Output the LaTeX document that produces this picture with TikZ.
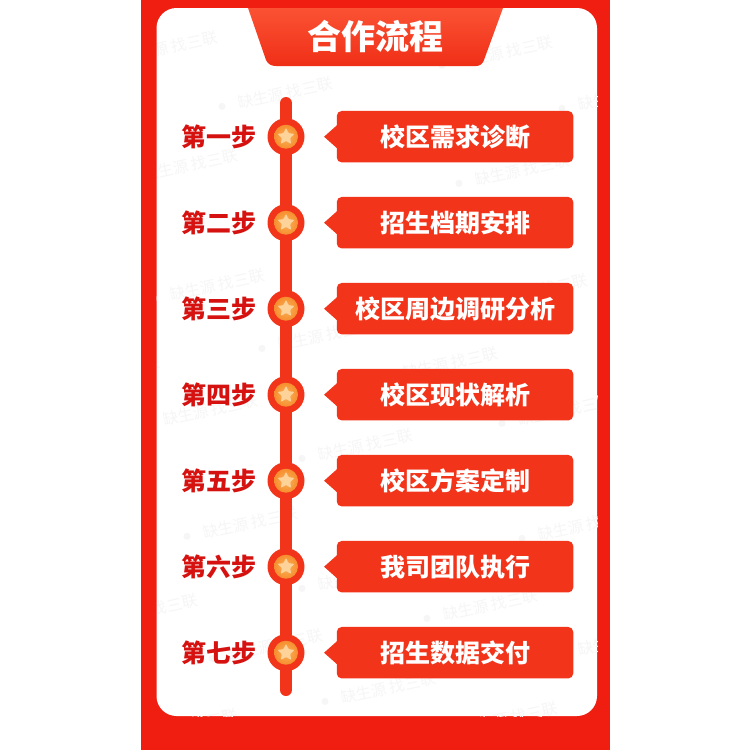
\documentclass[tikz,border=0pt]{standalone}
\usepackage{fontspec}
\usetikzlibrary{shapes.geometric,calc}
\newfontfamily\cjk{Noto Sans CJK SC}
\newfontfamily\cjkb{Noto Sans CJK SC Black}
\definecolor{outerred}{HTML}{F01E10}
\definecolor{railred}{HTML}{F2341A}
\definecolor{labelred}{HTML}{D5120F}
\definecolor{ringorange}{HTML}{F68E2E}
\definecolor{innerorange}{HTML}{FBB25C}
\definecolor{starpale}{HTML}{FDD39A}
\definecolor{markgray}{HTML}{F6F6F6}
\definecolor{bannertop}{HTML}{FB5233}
\definecolor{bannerbot}{HTML}{EF2F17}
\tikzset{
  x=1pt,y=-1pt,
  stepbox/.style={fill=railred,rounded corners=5pt,minimum width=236.5pt,minimum height=51.5pt,inner sep=0pt,text=white,font=\cjkb\fontsize{25}{25}\selectfont},
  steplabel/.style={text=labelred,inner sep=0pt,font=\cjkb\fontsize{25}{25}\selectfont},
  hub/.style={circle,fill=railred,minimum size=37pt,inner sep=0pt},
  disc/.style={circle,inner sep=0pt,minimum size=24pt,inner color=innerorange,outer color=ringorange},
  starmark/.style={star,star points=5,star point ratio=2.1,fill=starpale,minimum size=18pt,inner sep=0pt,rounded corners=1pt},
  wmark/.style={text=markgray,inner sep=0pt,rotate=12,font=\cjk\fontsize{15.5}{15.5}\selectfont},
  railline/.style={draw=railred,line width=12pt,line cap=round},
}
\begin{document}
\begin{tikzpicture}
\useasboundingbox (0,0) rectangle (750,750);
\fill[white] (0,0) rectangle (750,750);
\fill[outerred] (141,0) rectangle (610,750);
\fill[white,rounded corners=20pt] (156.5,8) rectangle (597,716);
\begin{scope}
  \clip[rounded corners=20pt] (156.5,8) rectangle (597,716);
  \foreach \wx/\wy in {170/47,285/93,505/52,190/165,522/170,217/285,325/335,365/445,210/410,450/363,565/410,250/523,150/610,275/645,388/688,490/605,585/525,625/640,510/718,190/725,365/575,112/372,625/95,540/290}{
    \node[wmark] at (\wx,\wy) {缺生源 找三联};
    \fill[markgray] ($(\wx,\wy)+(-63,13.4)$) circle (3.5pt);
  }
\end{scope}
\shade[top color=bannertop,bottom color=bannerbot]
  (248,8) -- (503,8) -- (484,60) .. controls (482.5,64) and (480,66) .. (476,66)
  -- (276,66) .. controls (271,66) and (268,64) .. (266,60) -- cycle;
\node[inner sep=0pt,text=white,font=\cjkb\fontsize{34}{34}\selectfont] (title) at (375.5,36.5) {合作流程};
\coordinate (railtop) at (286,103);
\coordinate (railbot) at (286,690);
\draw[railline] (railtop) -- (railbot);
\foreach \n/\yy/\lab/\txt in {1/136.7/第一步/校区需求诊断,2/222.7/第二步/招生档期安排,3/308.7/第三步/校区周边调研分析,4/394.7/第四步/校区现状解析,5/480.7/第五步/校区方案定制,6/566.7/第六步/我司团队执行,7/652.7/第七步/招生数据交付}{
  \node[hub] (hub\n) at (286,\yy) {};
  \node[disc] (disc\n) at (286,\yy) {};
  \node[starmark] (star\n) at (286,\yy) {};
  \node[steplabel] (lab\n) at (218.5,\yy) {\lab};
  \node[stepbox] (box\n) at (455,\yy) {\txt};
  \fill[railred] ($(box\n.west)+(1,-12)$) -- ($(box\n.west)+(-12.5,0)$) -- ($(box\n.west)+(1,12)$) -- cycle;
}
\end{tikzpicture}
\end{document}
